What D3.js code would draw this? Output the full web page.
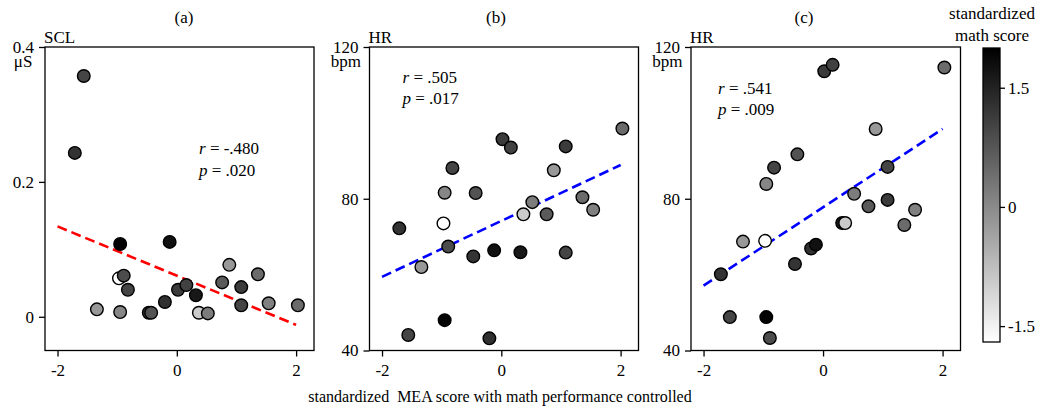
<!DOCTYPE html>
<html>
<head>
<meta charset="utf-8">
<style>
body { margin: 0; background: #fff; }
svg text { font-family: "Liberation Serif", "Times New Roman", serif; fill: #000; }
</style>
</head>
<body>
<svg width="1042" height="409"></svg>
<script src="https://d3js.org/d3.v7.min.js"></script>
<script>
// standardized MEA score (x), one per participant
var mea = [-1.71, -1.56, -1.34, -0.97, -0.95, -0.95, -0.89, -0.82, -0.47, -0.43, -0.20, -0.12,
           0.02, 0.16, 0.32, 0.37, 0.52, 0.76, 0.88, 1.08, 1.08, 1.36, 1.54, 2.03];
// standardized math score (marker colour)
var math = [1.26, 1.0, -0.2, -1.7, 0.05, 1.95, 0.9, 1.0, 1.25, 0.8, 1.3, 1.75,
            1.15, 1.05, 1.65, -0.95, 0.2, 0.7, -0.2, 1.15, 1.0, 0.45, 0.15, 0.45];
// (a) SCL, µS
var scl = [0.243, 0.357, 0.011, 0.057, 0.007, 0.108, 0.061, 0.040, 0.006, 0.006, 0.022, 0.111,
           0.040, 0.047, 0.032, 0.006, 0.005, 0.051, 0.077, 0.044, 0.017, 0.063, 0.020, 0.017];
// (b) HR, bpm
var hrB = [72.2, 44.1, 62.0, 73.5, 81.6, 48.0, 67.4, 88.1, 64.8, 81.5, 43.2, 66.4,
           95.7, 93.5, 65.9, 75.9, 79.1, 75.9, 87.5, 93.8, 65.8, 80.4, 77.1, 98.5];
// (c) HR, bpm
var hrC = [60.1, 48.8, 68.7, 68.9, 83.9, 48.8, 43.3, 88.2, 62.8, 91.7, 66.9, 67.9,
           113.6, 115.3, 73.6, 73.6, 81.3, 78.0, 98.4, 79.7, 88.4, 73.1, 77.1, 114.6];

// regression line ends at x = -2 and x = 2
var fitX = [-2, 2];
var fitA = [0.134, -0.012];
var fitB = [59.4, 88.9];
var fitC = [57.1, 98.4];

var xTicks = [-2, 0, 2];
var sclTicks = [0, 0.2, 0.4];
var hrTicks = [40, 80, 120];
var cbTicks = [-1.5, 0, 1.5];
var stats = [["-.480", ".020"], [".505", ".017"], [".541", ".009"]];

var svg = d3.select("svg");
var serif = "'Liberation Serif', 'Times New Roman', serif";

var plotTop = 47, plotBottom = 350.5;

var color = d3.scaleLinear().domain([-1.7, 2.0]).range(["#ffffff", "#000000"]).clamp(true);

var panels = [
  {title: "(a)", tx: 184, left: 45, right: 314, y: scl, yDom: [-0.05, 0.4], yTicks: sclTicks,
   fmt: function(d) { return d === 0 ? "0" : d3.format(".1f")(d); }, name: "SCL", unit: "\u03bcS",
   fit: fitA, fitColor: "#ff0000", stat: stats[0], sx: 154, sy: 107},
  {title: "(b)", tx: 496, left: 369.5, right: 638.5, y: hrB, yDom: [40, 120], yTicks: hrTicks,
   fmt: d3.format("d"), name: "HR", unit: "bpm", fit: fitB, fitColor: "#0000ff", stat: stats[1], sx: 33, sy: 35.5},
  {title: "(c)", tx: 804, left: 691, right: 960.5, y: hrC, yDom: [40, 120], yTicks: hrTicks,
   fmt: d3.format("d"), name: "HR", unit: "bpm", fit: fitC, fitColor: "#0000ff", stat: stats[2], sx: 27, sy: 46.5}
];

function styleAxis(a) {
  a.attr("font-family", serif).attr("font-size", 17);
  a.select(".domain").remove();
  a.selectAll("line").attr("stroke", "#000").attr("stroke-width", 1.3);
  a.selectAll("text").style("font-family", serif).style("font-size", "17px");
}

panels.forEach(function(p) {
  var x = d3.scaleLinear().domain([-2.21, 2.3]).range([p.left, p.right]);
  var y = d3.scaleLinear().domain(p.yDom).range([plotBottom, plotTop]);
  var g = svg.append("g");

  var ya = g.append("g")
      .attr("transform", "translate(" + p.left + ",0)")
      .call(d3.axisLeft(y).tickValues(p.yTicks).tickFormat(p.fmt).tickSize(6).tickPadding(5));
  var xa = g.append("g")
      .attr("transform", "translate(0," + plotBottom + ")")
      .call(d3.axisBottom(x).tickValues(xTicks).tickFormat(function(d) { return d < 0 ? "-" + Math.abs(d) : String(d); })
        .tickSize(6).tickPadding(7));
  styleAxis(ya);
  styleAxis(xa);

  // frame
  g.append("rect")
      .attr("x", p.left).attr("y", plotTop)
      .attr("width", p.right - p.left).attr("height", plotBottom - plotTop)
      .attr("fill", "none").attr("stroke", "#000").attr("stroke-width", 1.3);

  // regression line
  g.append("line")
      .attr("x1", x(fitX[0])).attr("y1", y(p.fit[0]))
      .attr("x2", x(fitX[1])).attr("y2", y(p.fit[1]))
      .attr("stroke", p.fitColor).attr("stroke-width", 2.6)
      .attr("stroke-dasharray", "10,5");

  g.append("g").selectAll("circle")
    .data(mea.map(function(m, i) { return [m, p.y[i], math[i]]; }))
    .enter().append("circle")
      .attr("cx", function(d) { return x(d[0]); })
      .attr("cy", function(d) { return y(d[1]); })
      .attr("r", 6.3)
      .attr("fill", function(d) { return color(d[2]); })
      .attr("stroke", "#000").attr("stroke-width", 1.4);

  // titles and labels
  g.append("text").attr("x", p.tx).attr("y", 23).attr("text-anchor", "middle")
      .attr("font-size", 17).text(p.title);
  g.append("text").attr("x", p.left - 1).attr("y", 42.5).attr("font-size", 17).text(p.name);

  var topLab = ya.selectAll(".tick text").filter(function(d) { return d === p.yTicks[p.yTicks.length - 1]; });
  var bb = topLab.node().getBBox();
  var cx = p.left - 11 - bb.width / 2;
  g.append("text").attr("x", cx).attr("y", 67).attr("text-anchor", "middle")
      .attr("font-size", 17).text(p.unit);

  var st = g.append("text").attr("x", p.left + p.sx).attr("y", plotTop + p.sy).attr("font-size", 17);
  st.append("tspan").attr("font-style", "italic").text("r");
  st.append("tspan").text(" = " + p.stat[0]);
  var st2 = g.append("text").attr("x", p.left + p.sx).attr("y", plotTop + p.sy + 21.5).attr("font-size", 17);
  st2.append("tspan").attr("font-style", "italic").text("p");
  st2.append("tspan").text(" = " + p.stat[1]);
});

svg.append("text").attr("x", 500).attr("y", 402).attr("text-anchor", "middle")
    .attr("font-size", 16).style("white-space", "pre")
    .text("standardized  MEA score with math performance controlled");

// colour bar
var cbL = 983, cbR = 1000, cbT = 48, cbB = 342;
var cy = d3.scaleLinear().domain(color.domain()).range([cbB, cbT]);
var defs = svg.append("defs");
var grad = defs.append("linearGradient").attr("id", "cbgrad")
    .attr("x1", 0).attr("y1", 1).attr("x2", 0).attr("y2", 0);
grad.append("stop").attr("offset", "0%").attr("stop-color", color(color.domain()[0]));
grad.append("stop").attr("offset", "100%").attr("stop-color", color(color.domain()[1]));
svg.append("rect").attr("x", cbL).attr("y", cbT).attr("width", cbR - cbL).attr("height", cbB - cbT)
    .attr("fill", "url(#cbgrad)").attr("stroke", "#000").attr("stroke-width", 1.3);
var ca = svg.append("g").attr("transform", "translate(" + cbR + ",0)")
    .call(d3.axisRight(cy).tickValues(cbTicks).tickSize(5).tickPadding(3)
      .tickFormat(function(d) { return d === 0 ? "0" : (d < 0 ? "-" : "") + Math.abs(d).toFixed(1); }));
styleAxis(ca);

svg.append("text").attr("x", 992).attr("y", 19).attr("text-anchor", "middle").attr("font-size", 17)
    .text("standardized");
svg.append("text").attr("x", 992).attr("y", 41).attr("text-anchor", "middle").attr("font-size", 17)
    .text("math score");
</script>
</body>
</html>
